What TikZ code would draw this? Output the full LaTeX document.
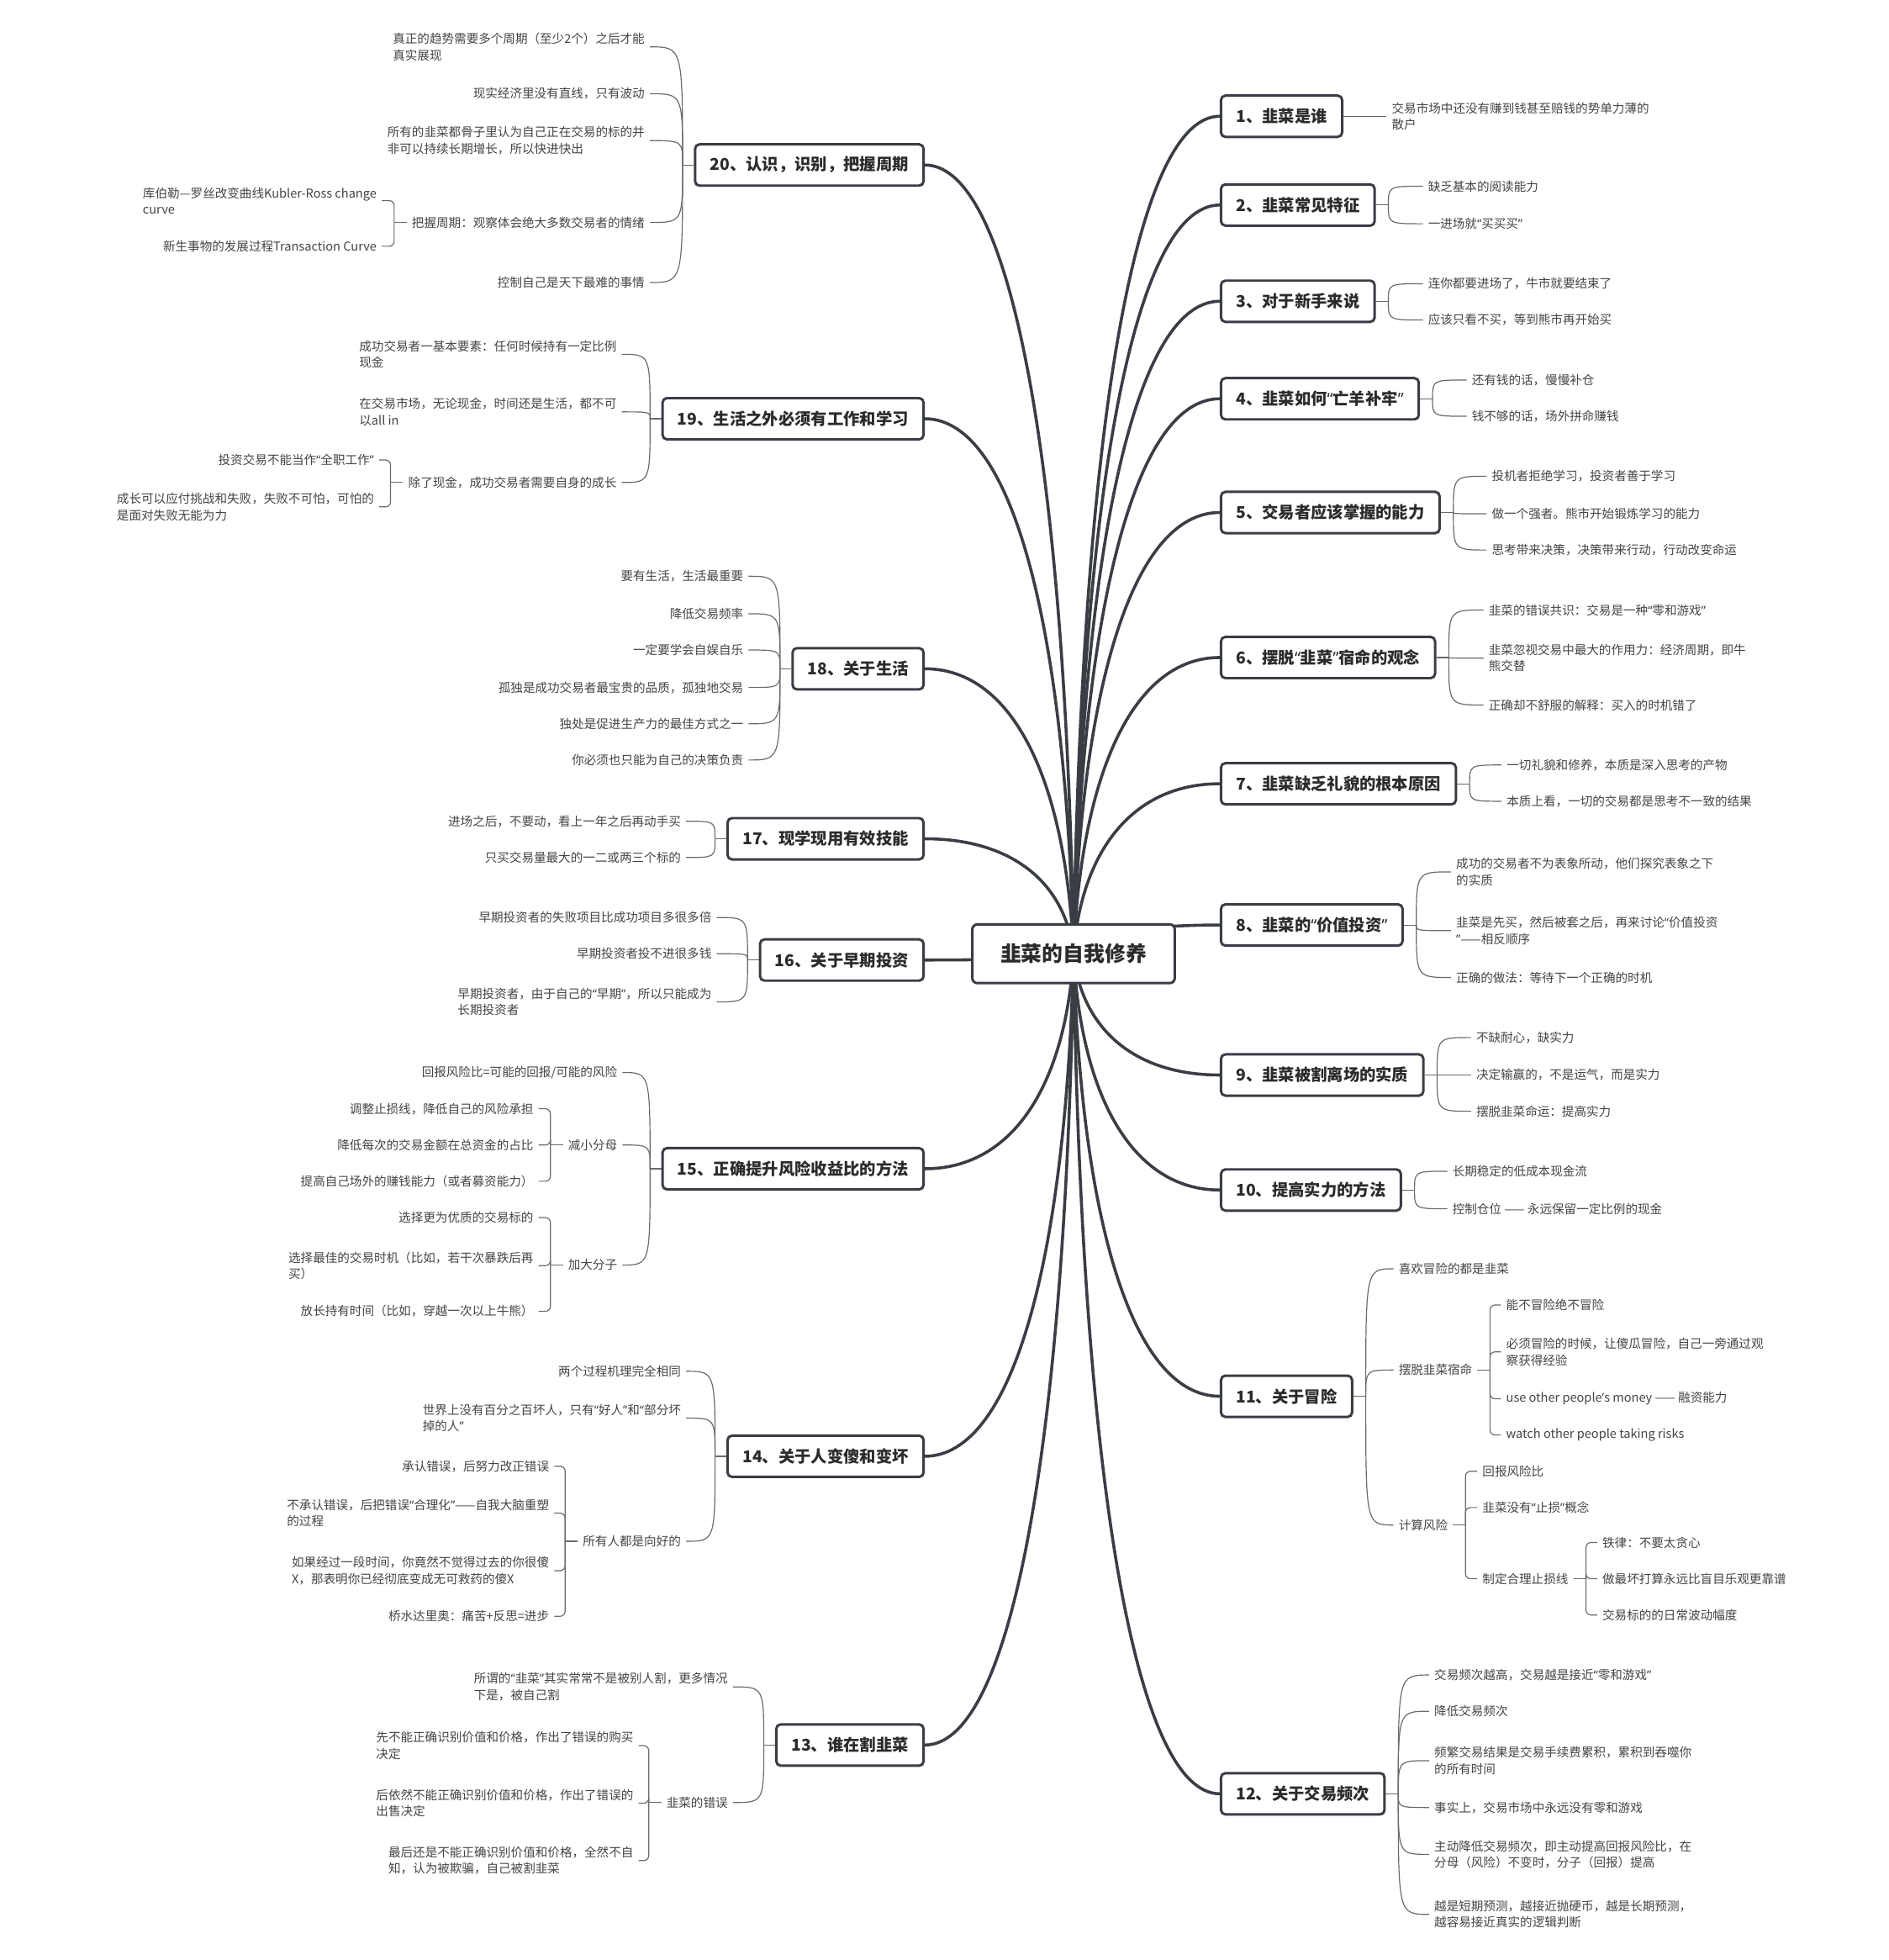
\documentclass[tikz,border=0pt]{standalone}
\usepackage{fontspec}
\setmainfont{Noto Sans CJK SC}
\newfontfamily\quotefont{Noto Sans}
\newcommand{\qo}{{\quotefont “}}
\newcommand{\qc}{{\quotefont ”}}
\usepackage{xcolor}
\usepackage{tikz}
\definecolor{boxc}{HTML}{3A3E44}
\definecolor{twigc}{HTML}{6A6A6A}
\definecolor{notec}{HTML}{444444}
\definecolor{headc}{HTML}{2B2B2B}
\tikzset{
    root/.style={draw=boxc, fill=white, line width=2pt, rounded corners=4pt,
        minimum width=162pt, minimum height=47pt, text=headc,
        font=\fontsize{16.7}{20}\selectfont\bfseries},
    topic/.style={draw=boxc, fill=white, line width=2pt, rounded corners=3.5pt,
        inner xsep=12pt, minimum height=33pt, text=headc,
        font=\fontsize{13}{16}\selectfont\bfseries},
    note/.style={inner xsep=4pt, inner ysep=1pt, align=left, text=notec,
        font=\fontsize{9.8}{13}\selectfont},
    trunk/.style={draw=boxc, line width=2.4pt, to path={
        let \p1=(\tikztostart), \p2=(\tikztotarget) in
        .. controls ({\x1+0.05*(\x2-\x1)},{\y1+0.6*(\y2-\y1)})
        and ({\x1+0.4*(\x2-\x1)},\y2) .. (\tikztotarget)}},
    twig/.style={draw=twigc, line width=0.8pt},
    brace/.style={twig, rounded corners=4pt}}
\usetikzlibrary{calc}
\pgfdeclarelayer{bg}
\pgfsetlayers{bg,main}

\begin{document}
\begin{tikzpicture}[x=1pt, y=-1pt]
    \useasboundingbox (0,0) rectangle (1511,1568);
    \node[root] (root) at (859,763) {韭菜的自我修养};

    % right side
    \node[topic, anchor=west] (t1) at (976,93) {1、韭菜是谁};
    \node[note, anchor=west] (l1a) at (1109.5,93) {交易市场中还没有赚到钱甚至赔钱的势单力薄的\\散户};

    \node[topic, anchor=west] (t2) at (976,164) {2、韭菜常见特征};
    \node[note, anchor=west] (l2a) at (1138.5,149) {缺乏基本的阅读能力};
    \node[note, anchor=west] (l2b) at (1138.5,179) {一进场就\qo{}买买买\qc{}};

    \node[topic, anchor=west] (t3) at (976,241) {3、对于新手来说};
    \node[note, anchor=west] (l3a) at (1138.5,227) {连你都要进场了，牛市就要结束了};
    \node[note, anchor=west] (l3b) at (1138.5,256) {应该只看不买，等到熊市再开始买};

    \node[topic, anchor=west] (t4) at (976,319) {4、韭菜如何\qo{}亡羊补牢\qc{}};
    \node[note, anchor=west] (l4a) at (1173.5,304) {还有钱的话，慢慢补仓};
    \node[note, anchor=west] (l4b) at (1173.5,333) {钱不够的话，场外拼命赚钱};

    \node[topic, anchor=west] (t5) at (976,410) {5、交易者应该掌握的能力};
    \node[note, anchor=west] (l5a) at (1189.5,381) {投机者拒绝学习，投资者善于学习};
    \node[note, anchor=west] (l5b) at (1189.5,411) {做一个强者。熊市开始锻炼学习的能力};
    \node[note, anchor=west] (l5c) at (1189.5,440) {思考带来决策，决策带来行动，行动改变命运};

    \node[topic, anchor=west] (t6) at (976,526) {6、摆脱\qo{}韭菜\qc{}宿命的观念};
    \node[note, anchor=west] (l6a) at (1187,488) {韭菜的错误共识：交易是一种\qo{}零和游戏\qc{}};
    \node[note, anchor=west] (l6b) at (1187,526.5) {韭菜忽视交易中最大的作用力：经济周期，即牛\\熊交替};
    \node[note, anchor=west] (l6c) at (1187,564) {正确却不舒服的解释：买入的时机错了};

    \node[topic, anchor=west] (t7) at (976,627) {7、韭菜缺乏礼貌的根本原因};
    \node[note, anchor=west] (l7a) at (1201.5,612) {一切礼貌和修养，本质是深入思考的产物};
    \node[note, anchor=west] (l7b) at (1201.5,641) {本质上看，一切的交易都是思考不一致的结果};

    \node[topic, anchor=west] (t8) at (976,740) {8、韭菜的\qo{}价值投资\qc{}};
    \node[note, anchor=west] (l8a) at (1161,697.5) {成功的交易者不为表象所动，他们探究表象之下\\的实质};
    \node[note, anchor=west] (l8b) at (1161,744.5) {韭菜是先买，然后被套之后，再来讨论\qo{}价值投资\\\qc{}——相反顺序};
    \node[note, anchor=west] (l8c) at (1161,782) {正确的做法：等待下一个正确的时机};

    \node[topic, anchor=west] (t9) at (976,860) {9、韭菜被割离场的实质};
    \node[note, anchor=west] (l9a) at (1177,830) {不缺耐心，缺实力};
    \node[note, anchor=west] (l9b) at (1177,860) {决定输赢的，不是运气，而是实力};
    \node[note, anchor=west] (l9c) at (1177,889) {摆脱韭菜命运：提高实力};

    \node[topic, anchor=west] (t10) at (976,952) {10、提高实力的方法};
    \node[note, anchor=west] (l10a) at (1158,937) {长期稳定的低成本现金流};
    \node[note, anchor=west] (l10b) at (1158,967) {控制仓位 —— 永远保留一定比例的现金};

    \node[topic, anchor=west] (t11) at (976,1117) {11、关于冒险};
    \node[note, anchor=west] (l11a) at (1115,1015) {喜欢冒险的都是韭菜};
    \node[note, anchor=west] (l11b) at (1115,1096) {摆脱韭菜宿命};
    \node[note, anchor=west] (l11c) at (1115,1220) {计算风险};
    \node[note, anchor=west] (l11b1) at (1201,1044) {能不冒险绝不冒险};
    \node[note, anchor=west] (l11b2) at (1201,1081.5) {必须冒险的时候，让傻瓜冒险，自己一旁通过观\\察获得经验};
    \node[note, anchor=west] (l11b3) at (1201,1119) {use other people{\quotefont ’}s money —— 融资能力};
    \node[note, anchor=west] (l11b4) at (1201,1148) {watch other people taking risks};
    \node[note, anchor=west] (l11c1) at (1182,1177) {回报风险比};
    \node[note, anchor=west] (l11c2) at (1182,1206) {韭菜没有\qo{}止损\qc{}概念};
    \node[note, anchor=west] (l11c3) at (1182,1263) {制定合理止损线};
    \node[note, anchor=west] (l11d1) at (1278,1234) {铁律：不要太贪心};
    \node[note, anchor=west] (l11d2) at (1278,1263) {做最坏打算永远比盲目乐观更靠谱};
    \node[note, anchor=west] (l11d3) at (1278,1292) {交易标的的日常波动幅度};

    \node[topic, anchor=west] (t12) at (976,1435) {12、关于交易频次};
    \node[note, anchor=west] (l12a) at (1143.5,1340) {交易频次越高，交易越是接近\qo{}零和游戏\qc{}};
    \node[note, anchor=west] (l12b) at (1143.5,1369) {降低交易频次};
    \node[note, anchor=west] (l12c) at (1143.5,1408.5) {频繁交易结果是交易手续费累积，累积到吞噬你\\的所有时间};
    \node[note, anchor=west] (l12d) at (1143.5,1446) {事实上，交易市场中永远没有零和游戏};
    \node[note, anchor=west] (l12e) at (1143.5,1483.5) {主动降低交易频次，即主动提高回报风险比，在\\分母（风险）不变时，分子（回报）提高};
    \node[note, anchor=west] (l12f) at (1143.5,1531.5) {越是短期预测，越接近抛硬币，越是长期预测，\\越容易接近真实的逻辑判断};

    % left side
    \node[topic, anchor=east] (t20) at (740,132) {20、认识，识别，把握周期};
    \node[note, anchor=east] (l20a) at (520,37.5) {真正的趋势需要多个周期（至少2个）之后才能\\真实展现};
    \node[note, anchor=east] (l20b) at (520,75) {现实经济里没有直线，只有波动};
    \node[note, anchor=east] (l20c) at (520,112.5) {所有的韭菜都骨子里认为自己正在交易的标的并\\非可以持续长期增长，所以快进快出};
    \node[note, anchor=east] (l20d) at (520,178) {把握周期：观察体会绝大多数交易者的情绪};
    \node[note, anchor=east] (l20e) at (520,226) {控制自己是天下最难的事情};
    \node[note, anchor=east] (l20d1) at (305.5,160.5) {库伯勒—罗丝改变曲线Kubler-Ross change\\curve};
    \node[note, anchor=east] (l20d2) at (305.5,197) {新生事物的发展过程Transaction Curve};

    \node[topic, anchor=east] (t19) at (740,335) {19、生活之外必须有工作和学习};
    \node[note, anchor=east] (l19a) at (497.5,283.5) {成功交易者一基本要素：任何时候持有一定比例\\现金};
    \node[note, anchor=east] (l19b) at (497.5,329.5) {在交易市场，无论现金，时间还是生活，都不可\\以all in};
    \node[note, anchor=east] (l19c) at (497.5,386) {除了现金，成功交易者需要自身的成长};
    \node[note, anchor=east] (l19c1) at (303.5,368) {投资交易不能当作\qo{}全职工作\qc{}};
    \node[note, anchor=east] (l19c2) at (303.5,405.5) {成长可以应付挑战和失败，失败不可怕，可怕的\\是面对失败无能为力};

    \node[topic, anchor=east] (t18) at (740,535) {18、关于生活};
    \node[note, anchor=east] (l18a) at (599,461) {要有生活，生活最重要};
    \node[note, anchor=east] (l18b) at (599,491) {降低交易频率};
    \node[note, anchor=east] (l18c) at (599,520) {一定要学会自娱自乐};
    \node[note, anchor=east] (l18d) at (599,550) {孤独是成功交易者最宝贵的品质，孤独地交易};
    \node[note, anchor=east] (l18e) at (599,579) {独处是促进生产力的最佳方式之一};
    \node[note, anchor=east] (l18f) at (599,608) {你必须也只能为自己的决策负责};

    \node[topic, anchor=east] (t17) at (740,671) {17、现学现用有效技能};
    \node[note, anchor=east] (l17a) at (549,657) {进场之后，不要动，看上一年之后再动手买};
    \node[note, anchor=east] (l17b) at (549,686) {只买交易量最大的一二或两三个标的};

    \node[topic, anchor=east] (t16) at (740,768) {16、关于早期投资};
    \node[note, anchor=east] (l16a) at (573.5,734) {早期投资者的失败项目比成功项目多很多倍};
    \node[note, anchor=east] (l16b) at (573.5,763) {早期投资者投不进很多钱};
    \node[note, anchor=east] (l16c) at (573.5,801.5) {早期投资者，由于自己的\qo{}早期\qc{}，所以只能成为\\长期投资者};

    \node[topic, anchor=east] (t15) at (740,935) {15、正确提升风险收益比的方法};
    \node[note, anchor=east] (l15a) at (498,858) {回报风险比=可能的回报/可能的风险};
    \node[note, anchor=east] (l15b) at (498,916) {减小分母};
    \node[note, anchor=east] (l15c) at (498,1012) {加大分子};
    \node[note, anchor=east] (l15b1) at (431,887) {调整止损线，降低自己的风险承担};
    \node[note, anchor=east] (l15b2) at (431,916) {降低每次的交易金额在总资金的占比};
    \node[note, anchor=east] (l15b3) at (431,945) {提高自己场外的赚钱能力（或者募资能力）};
    \node[note, anchor=east] (l15c1) at (431,974) {选择更为优质的交易标的};
    \node[note, anchor=east] (l15c2) at (431,1012.5) {选择最佳的交易时机（比如，若干次暴跌后再\\买）};
    \node[note, anchor=east] (l15c3) at (431,1049) {放长持有时间（比如，穿越一次以上牛熊）};

    \node[topic, anchor=east] (t14) at (740,1165) {14、关于人变傻和变坏};
    \node[note, anchor=east] (l14a) at (549,1097) {两个过程机理完全相同};
    \node[note, anchor=east] (l14b) at (549,1134.5) {世界上没有百分之百坏人，只有\qo{}好人\qc{}和\qo{}部分坏\\掉的人\qc{}};
    \node[note, anchor=east] (l14c) at (549,1233) {所有人都是向好的};
    \node[note, anchor=east] (l14c1) at (443.5,1173) {承认错误，后努力改正错误};
    \node[note, anchor=east] (l14c2) at (443.5,1210.5) {不承认错误，后把错误\qo{}合理化\qc{}——自我大脑重塑\\的过程};
    \node[note, anchor=east] (l14c3) at (443.5,1256.5) {如果经过一段时间，你竟然不觉得过去的你很傻\\X，那表明你已经彻底变成无可救药的傻X};
    \node[note, anchor=east] (l14c4) at (443.5,1293) {桥水达里奥：痛苦+反思=进步};

    \node[topic, anchor=east] (t13) at (740,1396) {13、谁在割韭菜};
    \node[note, anchor=east] (l13a) at (586.5,1349.5) {所谓的\qo{}韭菜\qc{}其实常常不是被别人割，更多情况\\下是，被自己割};
    \node[note, anchor=east] (l13b) at (586.5,1442) {韭菜的错误};
    \node[note, anchor=east] (l13b1) at (511,1396.5) {先不能正确识别价值和价格，作出了错误的购买\\决定};
    \node[note, anchor=east] (l13b2) at (511,1442.5) {后依然不能正确识别价值和价格，作出了错误的\\出售决定};
    \node[note, anchor=east] (l13b3) at (511,1488.5) {最后还是不能正确识别价值和价格，全然不自\\知，认为被欺骗，自己被割韭菜};

    \begin{pgfonlayer}{bg}
    \fill[white] (0,0) rectangle (1511,1568);
    % trunks
    \foreach \t in {1,...,12}
      \draw[trunk] (root.center) to (t\t.west);
    \foreach \t in {13,...,20}
      \draw[trunk] (root.center) to (t\t.east);
    % fans
    \foreach \t in {1,...,12}
      \draw[twig] (t\t.east) -- ++(10,0) coordinate (j\t);
    \foreach \t in {13,...,20}
      \draw[twig] (t\t.west) -- ++(-9,0) coordinate (j\t);
    \foreach \t/\l in {1/1a, 2/2a, 2/2b, 3/3a, 3/3b, 4/4a, 4/4b, 5/5a, 5/5b, 5/5c,
        6/6a, 6/6b, 6/6c, 7/7a, 7/7b, 8/8a, 8/8b, 8/8c, 9/9a, 9/9b, 9/9c,
        10/10a, 10/10b, 11/11a, 11/11b, 11/11c,
        12/12a, 12/12b, 12/12c, 12/12d, 12/12e, 12/12f}
      \draw[twig] (j\t) .. controls (j\t |- l\l.west) .. (l\l.west);
    \foreach \t/\l in {20/20a, 20/20b, 20/20c, 20/20d, 20/20e, 19/19a, 19/19b, 19/19c,
        18/18a, 18/18b, 18/18c, 18/18d, 18/18e, 18/18f, 17/17a, 17/17b,
        16/16a, 16/16b, 16/16c, 15/15a, 15/15b, 15/15c, 14/14a, 14/14b, 14/14c,
        13/13a, 13/13b}
      \draw[twig] (j\t) .. controls (j\t |- l\l.east) .. (l\l.east);
    % brackets
    \foreach \p in {11b, 11c, 11c3}
      \draw[twig] (l\p.east) -- ++(10,0);
    \foreach \p/\c in {11b/11b1, 11b/11b2, 11b/11b3, 11b/11b4, 11c/11c1, 11c/11c2,
        11c/11c3, 11c3/11d1, 11c3/11d2, 11c3/11d3}
      \draw[brace] ([xshift=10pt]l\p.east) |- (l\c.west);
    \foreach \p in {20d, 19c, 15b, 15c, 14c, 13b}
      \draw[twig] (l\p.west) -- ++(-10,0);
    \foreach \p/\c in {20d/20d1, 20d/20d2, 19c/19c1, 19c/19c2, 15b/15b1, 15b/15b2,
        15b/15b3, 15c/15c1, 15c/15c2, 15c/15c3, 14c/14c1, 14c/14c2, 14c/14c3,
        14c/14c4, 13b/13b1, 13b/13b2, 13b/13b3}
      \draw[brace] ([xshift=-10pt]l\p.west) |- (l\c.east);
    \end{pgfonlayer}
\end{tikzpicture}
\end{document}
